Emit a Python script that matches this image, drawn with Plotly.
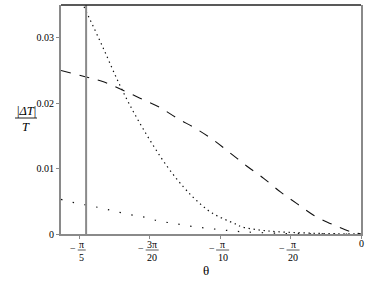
import numpy as np
import plotly.graph_objects as go

pi = np.pi

# dashed curve
theta_dash = [-0.669, -0.613, -0.576, -0.538, -0.494, -0.450, -0.410, -0.368, -0.330,
              -0.292, -0.255, -0.217, -0.179, -0.142, -0.104, -0.075, -0.051, -0.025, 0.0]
dT_dash = [0.0250, 0.0240, 0.0233, 0.0222, 0.0208, 0.0194, 0.0177, 0.0161, 0.0144,
           0.0124, 0.0104, 0.0085, 0.0064, 0.0046, 0.0028, 0.0018, 0.0011, 0.0004, 0.0]

# steep dotted curve
theta_dot = [-0.640, -0.620, -0.578, -0.534, -0.487, -0.432, -0.396, -0.368, -0.332,
             -0.279, -0.266, -0.213, -0.140, -0.070, 0.0]
dT_dot = [0.0382, 0.0351, 0.0289, 0.0222, 0.0162, 0.0103, 0.0072, 0.0052, 0.0032,
          0.0015, 0.0011, 0.0005, 0.0002, 0.00005, 0.0]

# sparse dotted curve
theta_sparse = [-0.669, -0.660, -0.633, -0.609, -0.582, -0.556, -0.531, -0.503, -0.478,
                -0.452, -0.425, -0.399, -0.372, -0.345, -0.319, -0.292, -0.266, -0.239,
                -0.180, -0.100, 0.0]
dT_sparse = [0.0053, 0.0051, 0.0047, 0.0044, 0.0040, 0.0036, 0.0032, 0.0028, 0.0025,
             0.0020, 0.0017, 0.0014, 0.0011, 0.0009, 0.0007, 0.0005, 0.00035, 0.00025,
             0.0001, 0.00002, 0.0]

theta_asym = -0.613

x_range = [-0.669, 0.0]
y_range = [0.0, 0.035]
y_ticks = [0, 0.01, 0.02, 0.03]
y_ticktext = ["0", "0.01", "0.02", "0.03"]
x_ticks = [-pi / 5, -3 * pi / 20, -pi / 10, -pi / 20, 0.0]
x_num = ["π", "3π", "π", "π", None]
x_den = ["5", "20", "10", "20", None]

FONT = "Liberation Serif, Times New Roman, serif"
INK = "#111111"
GRAY = "#8a8a8a"

fig = go.Figure()
fig.add_trace(go.Scatter(x=theta_dash, y=dT_dash, mode="lines",
                         line=dict(color=INK, width=1.1, dash="10px,9px", shape="spline"),
                         showlegend=False, hoverinfo="skip"))
fig.add_trace(go.Scatter(x=theta_dot, y=dT_dot, mode="lines",
                         line=dict(color=INK, width=1.2, dash="1.4px,3.6px", shape="spline"),
                         showlegend=False, hoverinfo="skip"))
fig.add_trace(go.Scatter(x=theta_sparse, y=dT_sparse, mode="lines",
                         line=dict(color=INK, width=1.2, dash="1.4px,10.6px", shape="spline"),
                         showlegend=False, hoverinfo="skip"))

shapes = []
# vertical line
shapes.append(dict(type="line", xref="x", yref="paper", x0=theta_asym, x1=theta_asym,
                   y0=0, y1=1, line=dict(color=GRAY, width=2)))
# top border
shapes.append(dict(type="line", xref="paper", yref="paper", x0=0, x1=1, y0=1, y1=1,
                   line=dict(color="#222222", width=1.5)))

annotations = []
for tv, num, den in zip(x_ticks, x_num, x_den):
    if num is None:
        annotations.append(dict(x=tv, xref="x", y=0, yref="paper", text="0", showarrow=False,
                                xanchor="center", yanchor="middle", yshift=-9,
                                font=dict(family=FONT, size=10, color="black")))
        continue
    hw = 3.5 if max(len(num), len(den)) == 1 else 6.0
    c = 2.5
    annotations.append(dict(x=tv, xref="x", y=0, yref="paper", text=num, showarrow=False,
                            xanchor="center", yanchor="middle", xshift=c, yshift=-10.5,
                            font=dict(family=FONT, size=10, color="black")))
    annotations.append(dict(x=tv, xref="x", y=0, yref="paper", text=den, showarrow=False,
                            xanchor="center", yanchor="middle", xshift=c, yshift=-23.5,
                            font=dict(family=FONT, size=10, color="black")))
    annotations.append(dict(x=tv, xref="x", y=0, yref="paper", text="−", showarrow=False,
                            xanchor="center", yanchor="middle", xshift=c - hw - 5, yshift=-14,
                            font=dict(family=FONT, size=10, color="black")))
    shapes.append(dict(type="line", xref="x", xsizemode="pixel", xanchor=tv,
                       x0=c - hw - 0.5, x1=c + hw + 0.5,
                       yref="paper", ysizemode="pixel", yanchor=0, y0=-16, y1=-16,
                       line=dict(color="#333333", width=0.8)))

# y axis label as fraction
annotations.append(dict(x=0, xref="paper", y=0, yref="paper", text="|<i>ΔT</i>|",
                        showarrow=False, xanchor="center", yanchor="middle",
                        xshift=-35, yshift=123, font=dict(family=FONT, size=12.5, color="black")))
annotations.append(dict(x=0, xref="paper", y=0, yref="paper", text="<i>T</i>",
                        showarrow=False, xanchor="center", yanchor="middle",
                        xshift=-35, yshift=107.5, font=dict(family=FONT, size=12.5, color="black")))
shapes.append(dict(type="line", xref="paper", xsizemode="pixel", xanchor=0, x0=-46, x1=-24,
                   yref="paper", ysizemode="pixel", yanchor=0, y0=116, y1=116,
                   line=dict(color="#222222", width=1)))
# theta label
annotations.append(dict(x=0, xref="paper", y=0, yref="paper", text="θ", showarrow=False,
                        xanchor="center", yanchor="middle", xshift=145, yshift=-36,
                        font=dict(family=FONT, size=13, color="black")))

fig.update_layout(
    width=368, height=283,
    margin=dict(l=61, r=5, t=5, b=49),
    paper_bgcolor="white", plot_bgcolor="white",
    shapes=shapes, annotations=annotations,
    xaxis=dict(range=x_range, tickvals=x_ticks, showticklabels=False, ticks="outside",
               ticklen=3, tickcolor=GRAY, showline=True, linecolor=GRAY, linewidth=2,
               showgrid=False, zeroline=False, fixedrange=True),
    yaxis=dict(range=y_range, tickvals=y_ticks, ticktext=y_ticktext, ticks="outside",
               ticklen=3, tickcolor=GRAY, showline=True, linecolor=GRAY, linewidth=2,
               mirror=True, showgrid=False, zeroline=False, fixedrange=True,
               tickfont=dict(family=FONT, size=10, color="black")),
)

fig.write_html("out.html", config={"displayModeBar": False},
               post_script="document.body.style.margin='0';document.body.style.overflow='hidden';")
